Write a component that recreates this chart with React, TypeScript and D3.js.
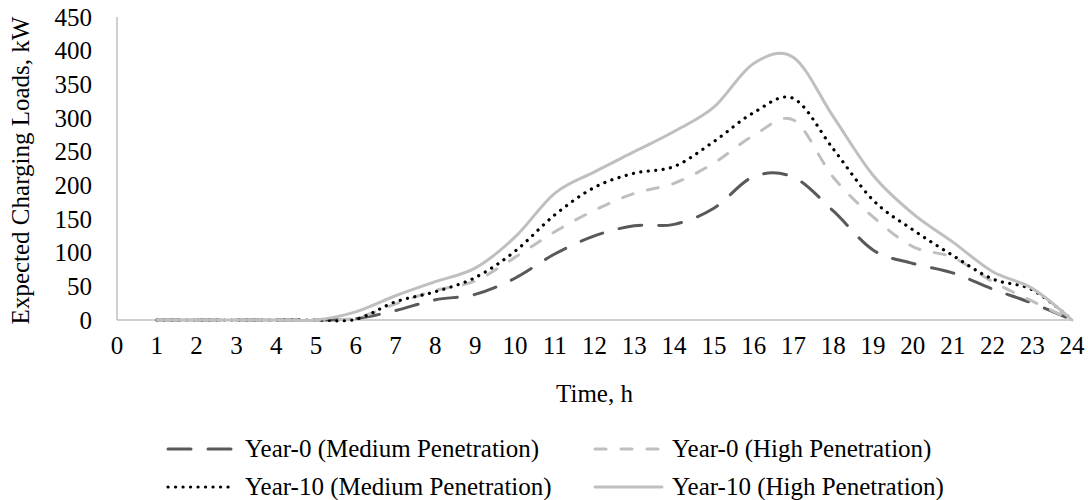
import React from "react";
import * as d3 from "d3";

// Hour of day for each sample
const hours = [1, 2, 3, 4, 5, 6, 7, 8, 9, 10, 11, 12, 13, 14, 15, 16, 17, 18, 19, 20, 21, 22, 23, 24];

// Expected charging loads (kW) per scenario
const year0Medium = [0, 0, 0, 0, 0, 2, 14, 30, 38, 62, 98, 125, 140, 142, 166, 213, 212, 162, 104, 84, 70, 46, 25, 0];
const year0High = [0, 0, 0, 0, 0, 3, 24, 44, 58, 93, 131, 163, 188, 203, 233, 274, 297, 212, 153, 109, 93, 57, 28, 0];
const year10Medium = [0, 0, 0, 0, 0, 1, 27, 42, 63, 102, 156, 197, 218, 228, 265, 308, 329, 254, 178, 134, 96, 61, 45, 0];
const year10High = [0, 0, 0, 0, 0, 12, 36, 57, 77, 123, 188, 220, 250, 280, 316, 381, 390, 302, 215, 158, 116, 72, 47, 0];

const xTicks = [0, 1, 2, 3, 4, 5, 6, 7, 8, 9, 10, 11, 12, 13, 14, 15, 16, 17, 18, 19, 20, 21, 22, 23, 24];
const yTicks = [0, 50, 100, 150, 200, 250, 300, 350, 400, 450];

const seriesNames = [
  "Year-0 (Medium Penetration)",
  "Year-0 (High Penetration)",
  "Year-10 (Medium Penetration)",
  "Year-10 (High Penetration)",
];

type LineStyle = { stroke: string; width: number; dash?: string; cap: "round" | "butt" };

const styles: LineStyle[] = [
  { stroke: "#595959", width: 3, dash: "23 17", cap: "round" },
  { stroke: "#bfbfbf", width: 3, dash: "11 15", cap: "round" },
  { stroke: "#000000", width: 3.2, dash: "0.1 7.4", cap: "round" },
  { stroke: "#bfbfbf", width: 3, cap: "round" },
];

const W = 1088;
const H = 500;
const FONT = "'Liberation Serif', 'Times New Roman', serif";
const FS = 25;

export default function App() {
  const x = d3.scaleLinear().domain([0, 24]).range([117, 1072]);
  const y = d3.scaleLinear().domain([0, 450]).range([320, 17]);

  const line = d3
    .line<number>()
    .x((_, i) => x(hours[i]))
    .y((d) => y(d))
    .curve(d3.curveCardinal.tension(0));

  const data = [year0Medium, year0High, year10Medium, year10High];

  // legend layout: two columns, two rows
  const legendCols = [168, 595];
  const legendRows = [457, 495];
  const sampleLen = 67;

  return (
    <svg
      width={W}
      height={H}
      style={{ display: "block", position: "absolute", left: 0, top: 0, background: "#fff" }}
      fontFamily={FONT}
    >
      <rect x={0} y={0} width={W} height={H} fill="#fff" />

      {/* axes */}
      <line x1={x(0)} x2={x(0)} y1={y(450)} y2={y(0)} stroke="#bfbfbf" strokeWidth={1.5} />
      <line x1={x(0)} x2={x(24)} y1={y(0)} y2={y(0)} stroke="#bfbfbf" strokeWidth={1.5} />

      {/* y tick labels */}
      {yTicks.map((t) => (
        <text key={t} x={92} y={y(t)} dy="0.35em" textAnchor="end" fontSize={FS} fill="#000">
          {t}
        </text>
      ))}

      {/* x tick labels */}
      {xTicks.map((t) => (
        <text key={t} x={x(t)} y={354} textAnchor="middle" fontSize={FS} fill="#000">
          {t}
        </text>
      ))}

      {/* axis titles */}
      <text x={x(12)} y={402} textAnchor="middle" fontSize={FS} fill="#000">
        Time, h
      </text>
      <text
        transform={`translate(29, ${(y(0) + y(450)) / 2 + 2}) rotate(-90)`}
        textAnchor="middle"
        fontSize={FS}
        fill="#000"
      >
        Expected Charging Loads, kW
      </text>

      {/* series */}
      {data.map((d, i) => (
        <path
          key={i}
          d={line(d) ?? ""}
          fill="none"
          stroke={styles[i].stroke}
          strokeWidth={styles[i].width}
          strokeDasharray={styles[i].dash}
          strokeLinecap={styles[i].cap}
          strokeLinejoin="round"
        />
      ))}

      {/* legend */}
      {seriesNames.map((name, i) => {
        const col = legendCols[i % 2];
        const row = legendRows[Math.floor(i / 2)];
        const st = styles[i];
        return (
          <g key={name}>
            <line
              x1={col}
              x2={col + sampleLen}
              y1={row - 8}
              y2={row - 8}
              stroke={st.stroke}
              strokeWidth={st.width}
              strokeDasharray={st.dash}
              strokeLinecap={st.cap}
            />
            <text x={col + 77} y={row} fontSize={FS} fill="#000">
              {name}
            </text>
          </g>
        );
      })}
    </svg>
  );
}
